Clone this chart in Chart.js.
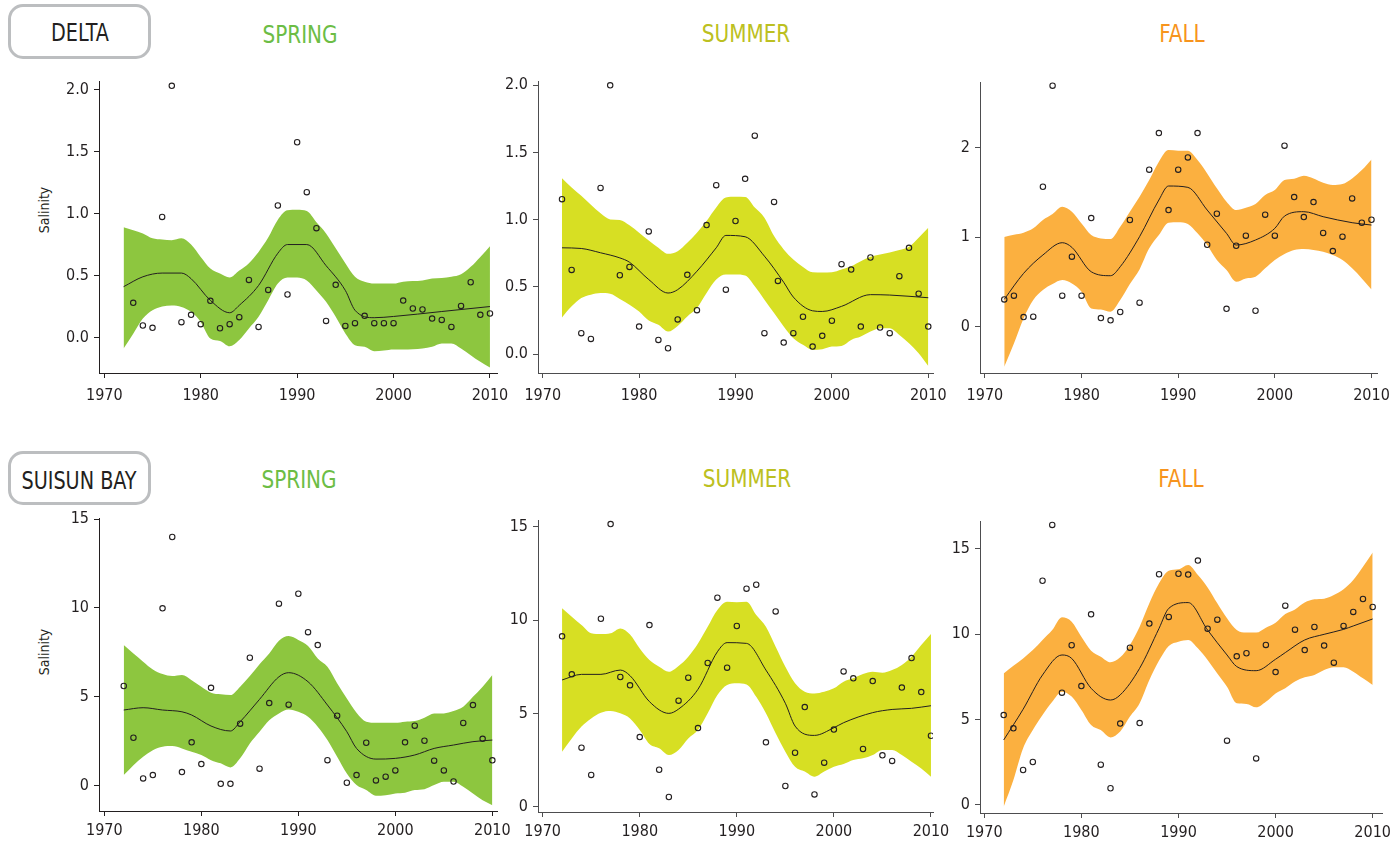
<!DOCTYPE html>
<html><head><meta charset="utf-8">
<script src="https://cdn.jsdelivr.net/npm/chart.js@4.4.1/dist/chart.umd.min.js"></script>
<style>
html,body{margin:0;padding:0;background:#fff;}
#wrap{position:relative;width:1398px;height:841px;overflow:hidden;background:#fff;font-family:'Liberation Sans Narrow','DejaVu Sans Condensed','Open Sans',sans-serif;color:#231f20;}
canvas{position:absolute;}
.lbl{position:absolute;transform:translate(-50%,-50%) scaleX(0.89);line-height:1;white-space:nowrap;}
.rot{position:absolute;transform:translate(-50%,-50%) rotate(-90deg);line-height:1;white-space:nowrap;font-size:14px;}
.box{position:absolute;box-sizing:border-box;border:3px solid #bcbec0;border-radius:15px;}
</style></head><body><div id="wrap">
<div class="box" style="left:8px;top:4px;width:143px;height:55px;"></div>
<div class="lbl" style="left:80px;top:33px;font-size:24px;">DELTA</div>
<div class="box" style="left:8px;top:451px;width:143px;height:54px;"></div>
<div class="lbl" style="left:79px;top:481px;font-size:24px;">SUISUN BAY</div>
<div class="lbl" style="left:300px;top:34px;font-size:25px;color:#6cbd45;">SPRING</div>
<div class="lbl" style="left:746px;top:33px;font-size:25px;color:#bcc021;">SUMMER</div>
<div class="lbl" style="left:1182px;top:33px;font-size:25px;color:#f7941d;">FALL</div>
<div class="lbl" style="left:299px;top:479px;font-size:25px;color:#6cbd45;">SPRING</div>
<div class="lbl" style="left:747px;top:478px;font-size:25px;color:#bcc021;">SUMMER</div>
<div class="lbl" style="left:1181px;top:478px;font-size:25px;color:#f7941d;">FALL</div>
<div class="rot" style="left:44px;top:210px;">Salinity</div>
<div class="rot" style="left:44px;top:652px;">Salinity</div>
</div>
<script>
const FONT = "'Liberation Sans Narrow','DejaVu Sans Condensed','Open Sans',sans-serif";

const years = [1972,1973,1974,1975,1976,1977,1978,1979,1980,1981,1982,1983,1984,1985,1986,1987,1988,1989,1990,1991,1992,1993,1994,1995,1996,1997,1998,1999,2000,2001,2002,2003,2004,2005,2006,2007,2008,2009,2010];
const xTicks = [1970,1980,1990,2000,2010];
const deltaYTicks = [0,0.5,1,1.5,2];
const deltaFallYTicks = [0,1,2];
const suisunYTicks = [0,5,10,15];

// ---- DELTA SPRING ----
const deltaSpringObs = [null,0.28,0.097,0.078,0.973,2.03,0.124,0.183,0.108,0.296,0.075,0.108,0.164,0.465,0.086,0.384,1.065,0.347,1.575,1.172,0.882,0.134,0.425,0.094,0.116,0.175,0.116,0.116,0.116,0.298,0.234,0.226,0.153,0.142,0.086,0.255,0.446,0.183,0.194];
const deltaSpringUpper = [0.89,0.865,0.84,0.80,0.79,0.785,0.80,0.75,0.65,0.556,0.516,0.484,0.54,0.60,0.69,0.806,0.95,1.027,1.03,1.02,0.93,0.84,0.72,0.60,0.49,0.45,0.435,0.435,0.435,0.45,0.455,0.46,0.476,0.48,0.49,0.51,0.57,0.65,0.737];
const deltaSpringLower = [-0.089,0.03,0.153,0.22,0.25,0.258,0.247,0.207,0.126,-0.008,-0.027,-0.07,-0.02,0.073,0.167,0.30,0.435,0.484,0.484,0.46,0.38,0.288,0.167,0.032,-0.062,-0.075,-0.11,-0.105,-0.097,-0.097,-0.094,-0.089,-0.075,-0.048,-0.048,-0.089,-0.142,-0.196,-0.242];
const deltaSpringFitYears = [1972,1974,1976,1978,1979,1981,1983,1984,1986,1988,1989,1991,1993,1995,1996,1998,2000,2005,2010];
const deltaSpringFit = [0.41,0.49,0.52,0.52,0.475,0.30,0.20,0.26,0.42,0.68,0.75,0.75,0.58,0.38,0.22,0.16,0.17,0.21,0.25];

// ---- DELTA SUMMER ----
const deltaSummerObs = [1.152,0.627,0.157,0.114,1.236,1.998,0.587,0.649,0.206,0.913,0.107,0.045,0.259,0.59,0.328,0.96,1.256,0.48,0.99,1.303,1.624,0.157,1.132,0.087,0.157,0.279,0.057,0.137,0.249,0.669,0.629,0.206,0.719,0.199,0.157,0.58,0.791,0.45,0.206];
const deltaSummerExtraYears = [1994.4];
const deltaSummerExtraObs = [0.545];
const deltaSummerUpper = [1.308,1.239,1.177,1.11,1.047,1.002,0.998,0.958,0.903,0.845,0.791,0.746,0.766,0.828,0.903,0.99,1.09,1.164,1.17,1.169,1.09,1.015,0.878,0.779,0.704,0.649,0.609,0.607,0.609,0.629,0.654,0.692,0.724,0.741,0.757,0.774,0.799,0.866,0.94];
const deltaSummerLower = [0.274,0.356,0.418,0.443,0.455,0.45,0.41,0.368,0.318,0.251,0.219,0.169,0.211,0.281,0.343,0.455,0.555,0.592,0.592,0.585,0.505,0.405,0.306,0.206,0.119,0.07,0.032,0.037,0.057,0.062,0.107,0.132,0.169,0.194,0.194,0.144,0.082,0.007,-0.087];
const deltaSummerFitYears = [1972,1974,1976,1978,1979,1981,1983,1984,1986,1988,1989,1991,1993,1995,1996,1998,1999,2001,2004,2006,2010];
const deltaSummerFit = [0.791,0.786,0.754,0.716,0.684,0.555,0.455,0.48,0.617,0.791,0.883,0.873,0.729,0.535,0.425,0.323,0.318,0.356,0.443,0.44,0.42];

// ---- DELTA FALL ----
const deltaFallObs = [0.305,0.346,0.108,0.112,1.561,2.688,0.346,0.781,0.346,1.212,0.097,0.071,0.164,1.19,0.268,1.751,2.16,1.301,1.751,1.888,2.16,0.914,1.26,0.2,0.903,1.015,0.178,1.249,1.015,2.019,1.446,1.223,1.39,1.045,0.844,1.004,1.431,1.16,1.193];
const deltaFallUpper = [1.0,1.025,1.048,1.097,1.19,1.257,1.338,1.283,1.152,1.022,0.985,0.978,1.115,1.283,1.45,1.636,1.84,1.97,1.963,1.963,1.859,1.71,1.543,1.394,1.301,1.327,1.368,1.468,1.524,1.636,1.651,1.684,1.654,1.606,1.58,1.591,1.654,1.747,1.866];
const deltaFallLower = [-0.446,-0.186,0.093,0.297,0.409,0.476,0.52,0.483,0.39,0.204,0.193,0.167,0.297,0.476,0.639,0.874,1.022,1.16,1.164,1.145,1.041,0.911,0.743,0.632,0.502,0.539,0.558,0.651,0.743,0.81,0.855,0.866,0.855,0.836,0.799,0.743,0.651,0.539,0.416];
const deltaFallFitYears = [1972,1974,1976,1978,1979,1981,1983,1984,1986,1988,1989,1991,1993,1995,1996,1998,2000,2001,2003,2005,2008,2010];
const deltaFallFit = [0.305,0.595,0.8,0.937,0.885,0.613,0.569,0.669,1.004,1.413,1.569,1.554,1.301,1.041,0.911,0.967,1.097,1.234,1.283,1.227,1.16,1.134];

// ---- SUISUN SPRING ----
const suisunSpringObs = [5.61,2.7,0.41,0.6,9.98,13.99,0.77,2.44,1.22,5.51,0.11,0.11,3.49,7.2,0.96,4.65,10.24,4.56,10.8,8.64,7.91,1.44,3.94,0.17,0.6,2.42,0.3,0.51,0.86,2.44,3.38,2.53,1.41,0.86,0.24,3.53,4.54,2.64,1.43];
const suisunSpringUpper = [7.91,7.44,6.98,6.54,6.28,6.17,6.23,5.94,5.57,5.23,5.14,5.1,5.57,6.17,6.84,7.44,8.16,8.42,8.2,7.86,7.16,6.69,5.76,4.91,4.11,3.6,3.54,3.54,3.54,3.6,3.64,3.83,4.07,4.07,4.2,4.44,5.0,5.57,6.23];
const suisunSpringLower = [0.6,1.16,1.63,2.0,2.19,2.23,2.1,1.91,1.73,1.44,1.26,1.03,1.54,2.38,3.04,3.69,4.07,4.29,4.16,3.88,3.32,2.57,1.63,0.69,0.04,-0.24,-0.56,-0.53,-0.43,-0.39,-0.24,-0.19,0.04,0.23,0.23,-0.06,-0.43,-0.81,-1.09];
const suisunSpringFitYears = [1972,1974,1976,1978,1979,1981,1983,1984,1986,1988,1989,1991,1993,1995,1996,1998,2000,2002,2004,2006,2008,2010];
const suisunSpringFit = [4.26,4.39,4.26,4.16,3.98,3.36,3.08,3.6,4.86,6.13,6.36,5.85,4.54,3.04,2.1,1.5,1.54,1.73,2.1,2.29,2.48,2.57];

// ---- SUISUN SUMMER ----
const suisunSummerObs = [9.13,7.09,3.16,1.7,10.07,15.14,6.95,6.5,3.73,9.73,1.98,0.52,5.68,6.91,4.21,7.7,11.2,7.45,9.68,11.68,11.89,3.45,10.46,1.11,2.89,5.34,0.66,2.36,4.13,7.25,6.88,3.09,6.73,2.75,2.45,6.38,7.96,6.14,3.8];
const suisunSummerUpper = [10.63,10.18,9.73,9.29,9.25,9.29,9.55,9.23,8.48,7.86,7.5,7.23,7.54,8.04,8.75,9.64,10.54,10.98,10.95,10.98,10.27,9.64,8.57,7.5,6.61,6.16,6.07,6.16,6.34,6.7,6.88,7.11,7.23,7.18,7.32,7.59,8.04,8.66,9.25];
const suisunSummerLower = [2.95,3.66,4.29,4.73,5.04,5.13,5.0,4.73,4.11,3.36,3.13,2.77,3.04,3.66,4.11,5.0,5.98,6.52,6.61,6.55,5.89,5.0,3.93,2.95,2.14,1.88,1.61,1.88,2.14,2.29,2.5,2.59,2.77,3.04,3.04,2.77,2.41,2.05,1.61];
const suisunSummerFitYears = [1972,1974,1976,1978,1979,1981,1983,1984,1986,1988,1989,1991,1993,1995,1996,1998,2000,2001,2004,2006,2008,2010];
const suisunSummerFit = [6.79,7.09,7.09,7.32,7.02,5.63,5.0,5.23,6.29,8.3,8.79,8.75,7.32,5.54,4.32,3.82,4.23,4.5,5.04,5.21,5.27,5.41];

// ---- SUISUN FALL ----
const suisunFallObs = [5.27,4.49,2.05,2.52,13.14,16.41,6.58,9.36,6.97,11.17,2.36,0.98,4.77,9.22,4.8,10.63,13.52,11.02,13.55,13.5,14.32,10.33,10.86,3.77,8.71,8.89,2.73,9.38,7.79,11.68,10.27,9.08,10.43,9.34,8.34,10.49,11.31,12.07,11.6];
const suisunFallUpper = [7.71,8.16,8.59,9.08,9.67,10.25,11.0,10.74,9.86,9.04,8.69,8.36,8.65,9.38,10.45,11.82,12.99,13.73,13.81,14.06,13.48,12.75,11.82,10.94,10.25,10.1,10.1,10.39,10.68,11.19,11.46,11.86,12.05,12.09,12.3,12.64,13.18,13.96,14.79];
const suisunFallLower = [-0.1,1.46,3.32,4.39,5.27,6.05,6.64,6.35,5.57,4.69,4.39,3.96,4.3,5.18,5.96,7.32,8.46,9.32,9.57,9.67,9.18,8.5,7.71,6.93,5.96,5.92,5.72,6.05,6.54,6.84,7.23,7.48,7.62,7.91,8.07,8.07,7.81,7.42,7.03];
const suisunFallFitYears = [1972,1974,1976,1978,1979,1981,1983,1984,1986,1988,1989,1991,1993,1995,1996,1998,2000,2001,2003,2005,2007,2008,2010];
const suisunFallFit = [3.81,5.61,7.62,8.79,8.59,6.84,6.15,6.45,8.01,10.35,11.52,11.86,10.25,8.79,8.11,7.87,8.54,8.93,9.67,10.0,10.29,10.49,10.9];

function pts(xs, ys){
  const out=[];
  for(let i=0;i<xs.length;i++){ if(ys[i]!==null && ys[i]!==undefined) out.push({x:xs[i], y:ys[i]}); }
  return out;
}

const GREEN='#8dc63f', YELLOW='#d7df23', ORANGE='#fbb040';
const fmt1 = v => v.toFixed(1);
const fmt0 = v => String(v);

const panels = [
  {cx:0,cy:60,cw:517,ch:360, area:[99,81,497,373], xmin:1969.45,xmax:2010.73, ymin:-0.286,ymax:2.069, yTicks:deltaYTicks, fmt:fmt1, band:GREEN, axis:'#231f20', xpad:8,
   obsX:years, obs:deltaSpringObs, upper:deltaSpringUpper, lower:deltaSpringLower, fitX:deltaSpringFitYears, fit:deltaSpringFit},
  {cx:470,cy:60,cw:485,ch:360, area:[538,81,933,373], xmin:1969.51,xmax:2010.49, ymin:-0.139,ymax:2.030, yTicks:deltaYTicks, fmt:fmt1, band:YELLOW, axis:'#4d4d4f', xpad:8,
   obsX:years.concat(deltaSummerExtraYears), obs:deltaSummerObs.concat(deltaSummerExtraObs), upper:deltaSummerUpper, lower:deltaSummerLower, fitX:deltaSummerFitYears, fit:deltaSummerFit},
  {cx:920,cy:60,cw:478,ch:360, area:[980,82,1383,373], xmin:1969.49,xmax:2010.58, ymin:-0.516,ymax:2.729, yTicks:deltaFallYTicks, fmt:fmt0, band:ORANGE, axis:'#4d4d4f', xpad:8,
   obsX:years, obs:deltaFallObs, upper:deltaFallUpper, lower:deltaFallLower, fitX:deltaFallFitYears, fit:deltaFallFit},
  {cx:0,cy:500,cw:517,ch:341, area:[99,518,497,811], xmin:1969.45,xmax:2010.48, ymin:-1.42,ymax:15.06, yTicks:suisunYTicks, fmt:fmt0, band:GREEN, axis:'#231f20', xpad:5,
   obsX:years, obs:suisunSpringObs, upper:suisunSpringUpper, lower:suisunSpringLower, fitX:suisunSpringFitYears, fit:suisunSpringFit},
  {cx:470,cy:500,cw:485,ch:341, area:[538,520,933,812], xmin:1969.52,xmax:2010.21, ymin:-0.284,ymax:15.36, yTicks:suisunYTicks, fmt:fmt0, band:YELLOW, axis:'#4d4d4f', xpad:5,
   obsX:years, obs:suisunSummerObs, upper:suisunSummerUpper, lower:suisunSummerLower, fitX:suisunSummerFitYears, fit:suisunSummerFit},
  {cx:920,cy:500,cw:478,ch:341, area:[980,521,1382,813], xmin:1969.56,xmax:2010.96, ymin:-0.469,ymax:16.64, yTicks:suisunYTicks, fmt:fmt0, band:ORANGE, axis:'#4d4d4f', xpad:5,
   obsX:years, obs:suisunFallObs, upper:suisunFallUpper, lower:suisunFallLower, fitX:suisunFallFitYears, fit:suisunFallFit}
];

const wrap = document.getElementById('wrap');

function makePanel(p){
  const cv = document.createElement('canvas');
  cv.width = p.cw; cv.height = p.ch;
  cv.style.left = p.cx+'px'; cv.style.top = p.cy+'px';
  cv.style.width = p.cw+'px'; cv.style.height = p.ch+'px';
  wrap.appendChild(cv);
  const L=p.area[0], T=p.area[1], R=p.area[2], B=p.area[3];
  const gridOpts = {display:true, drawOnChartArea:false, drawTicks:true, tickLength:5, color:p.axis, lineWidth:1};
  const borderOpts = {display:true, color:p.axis, width:1};
  new Chart(cv, {
    type:'line',
    data:{datasets:[
      {order:4, data:pts(years,p.lower), borderWidth:0, borderColor:'rgba(0,0,0,0)', pointRadius:0, fill:false, cubicInterpolationMode:'monotone'},
      {order:3, data:pts(years,p.upper), borderWidth:0, borderColor:'rgba(0,0,0,0)', pointRadius:0, fill:'-1', backgroundColor:p.band, cubicInterpolationMode:'monotone'},
      {order:2, data:pts(p.fitX,p.fit), borderColor:'#231f20', borderWidth:1, pointRadius:0, fill:false, cubicInterpolationMode:'monotone'},
      {order:1, data:pts(p.obsX,p.obs), showLine:false, pointRadius:2.7, pointBorderWidth:1.1, pointBorderColor:'#231f20', pointBackgroundColor:'rgba(0,0,0,0)', borderColor:'#231f20', backgroundColor:'rgba(0,0,0,0)', fill:false}
    ]},
    options:{
      responsive:false, animation:false, devicePixelRatio:1, events:[],
      layout:{padding:{left:0, top:T-p.cy, right:p.cx+p.cw-R, bottom:0}},
      plugins:{legend:{display:false}, tooltip:{enabled:false}, title:{display:false}},
      scales:{
        x:{type:'linear', min:p.xmin, max:p.xmax,
           afterFit:s=>{s.height = p.cy+p.ch-B;},
           afterBuildTicks:s=>{s.ticks = xTicks.map(v=>({value:v}));},
           grid:gridOpts, border:borderOpts,
           ticks:{padding:p.xpad, color:'#231f20', font:{family:FONT, size:16}, maxRotation:0, autoSkip:false, callback:v=>String(v)}},
        y:{type:'linear', min:p.ymin, max:p.ymax,
           afterFit:s=>{s.width = L-p.cx;},
           afterBuildTicks:s=>{s.ticks = p.yTicks.map(v=>({value:v}));},
           grid:gridOpts, border:borderOpts,
           ticks:{padding:5, color:'#231f20', font:{family:FONT, size:16}, autoSkip:false, callback:v=>p.fmt(v)}}
      }
    }
  });
}
panels.forEach(makePanel);
</script>
</body></html>
